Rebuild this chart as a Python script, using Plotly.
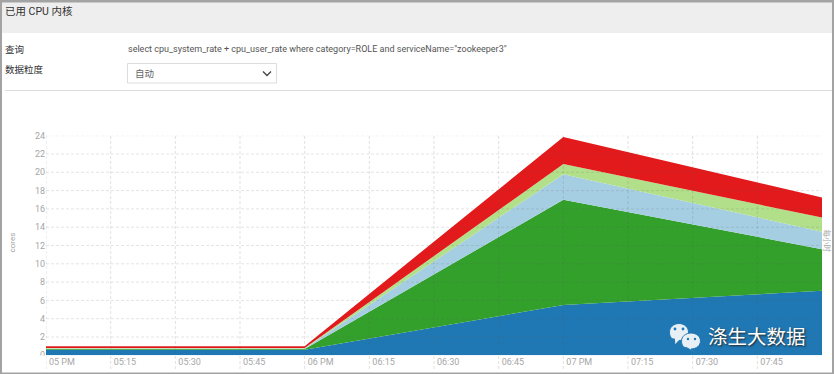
import plotly.graph_objects as go

W, H = 834, 374

# ---- data ----
times = ["2020-01-01 17:00", "2020-01-01 18:00", "2020-01-01 19:00", "2020-01-01 20:00"]
series_names = ["role-a", "role-b", "role-c", "role-d", "role-e"]
role_a = [0.6, 0.6, 5.5, 7.05]
role_b = [0.1, 0.1, 11.5, 4.55]
role_c = [0.05, 0.05, 2.8, 1.9]
role_d = [0.05, 0.05, 1.1, 1.55]
role_e = [0.2, 0.2, 2.95, 2.2]
series_values = [role_a, role_b, role_c, role_d, role_e]
series_colors = ["#1f78b4", "#33a02c", "#a6cee3", "#b2df8a", "#e31a1c"]

x_tick_vals = ["2020-01-01 17:00", "2020-01-01 17:15", "2020-01-01 17:30", "2020-01-01 17:45",
               "2020-01-01 18:00", "2020-01-01 18:15", "2020-01-01 18:30", "2020-01-01 18:45",
               "2020-01-01 19:00", "2020-01-01 19:15", "2020-01-01 19:30", "2020-01-01 19:45"]
x_tick_text = ["05 PM", "05:15", "05:30", "05:45", "06 PM", "06:15", "06:30", "06:45",
               "07 PM", "07:15", "07:30", "07:45"]
y_tick_vals = list(range(0, 25, 2))

FONT = "Roboto, Liberation Sans, Noto Sans CJK SC, sans-serif"
GREY = "#a6a6a6"


def px(x):
    return x / W


def py(y):
    return 1 - y / H


fig = go.Figure()
for name, vals, col in zip(series_names, series_values, series_colors):
    fig.add_trace(go.Scatter(x=times, y=vals, name=name, stackgroup="one", mode="lines",
                             line=dict(width=0, color=col), fillcolor=col, hoverinfo="x+y"))

shapes = []


def rect(x0, y0, x1, y1, fill, line=None, layer="below"):
    shapes.append(dict(type="rect", xref="paper", yref="paper", x0=px(x0), x1=px(x1),
                       y0=py(y0), y1=py(y1), fillcolor=fill, layer=layer,
                       line=dict(width=1 if line else 0, color=line or fill)))


# page chrome
rect(2, 2, 832, 33, "#eeeeee")
rect(127.5, 63.5, 276.5, 83, "#ffffff", "#dddddd")
shapes.append(dict(type="line", xref="paper", yref="paper", x0=px(5), x1=px(834), y0=py(90.5), y1=py(90.5),
                   line=dict(color="#dddddd", width=1)))
shapes.append(dict(type="path", xref="paper", yref="paper",
                   path=f"M{px(263)},{py(71.5)} L{px(267)},{py(75.5)} L{px(271)},{py(71.5)}",
                   line=dict(color="#444444", width=1.3)))

# grid drawn over the fills, as in the reference
for t in x_tick_vals:
    shapes.append(dict(type="line", xref="x", yref="paper", x0=t, x1=t, y0=py(369), y1=py(135.7), layer="above",
                       line=dict(color="rgba(90,90,90,0.18)", width=1, dash="3px,2px")))
for v in y_tick_vals[1:]:
    shapes.append(dict(type="line", xref="paper", yref="y", x0=px(46), x1=px(822), y0=v, y1=v, layer="above",
                       line=dict(color="rgba(90,90,90,0.16)", width=1, dash="3px,2px")))

# outer frame
rect(0, 0, 834, 2.5, "#a3a3a3", layer="above")
rect(0, 0, 2, 374, "#a3a3a3", layer="above")
rect(832, 0, 834, 374, "#a3a3a3", layer="above")
rect(0, 372.5, 834, 374, "#a3a3a3", layer="above")
# bottom of the "0" tick label is cut by the x axis strip
rect(30, 355.5, 45, 362, "#ffffff", layer="above")

# watermark icon
def bubble(cx, cy, rx, ry, tx, ty, fill):
    k = 0.5523
    d = (f"M{px(cx-rx)},{py(cy)} "
         f"C{px(cx-rx)},{py(cy-k*ry)} {px(cx-k*rx)},{py(cy-ry)} {px(cx)},{py(cy-ry)} "
         f"C{px(cx+k*rx)},{py(cy-ry)} {px(cx+rx)},{py(cy-k*ry)} {px(cx+rx)},{py(cy)} "
         f"C{px(cx+rx)},{py(cy+k*ry)} {px(cx+k*rx)},{py(cy+ry)} {px(cx)},{py(cy+ry)} "
         f"L{px(tx)},{py(ty)} L{px(cx-0.5*rx)},{py(cy+0.8*ry)} "
         f"C{px(cx-k*rx-2)},{py(cy+ry-1)} {px(cx-rx)},{py(cy+k*ry)} {px(cx-rx)},{py(cy)} Z")
    shapes.append(dict(type="path", xref="paper", yref="paper", path=d, fillcolor=fill, layer="above",
                       line=dict(color="#1f78b4", width=1)))


def dot(cx, cy, r, fill):
    shapes.append(dict(type="circle", xref="paper", yref="paper", x0=px(cx-r), x1=px(cx+r),
                       y0=py(cy-r), y1=py(cy+r), fillcolor=fill, layer="above", line=dict(width=0)))


bubble(679, 332, 9.5, 8.5, 675, 345, "#e8f0f6")
bubble(691, 341, 9.5, 8, 696, 353, "#e8f0f6")
dot(675, 329, 1.4, "#1f78b4")
dot(683, 329, 1.4, "#1f78b4")
dot(688, 339, 1.2, "#1f78b4")
dot(695, 339, 1.2, "#1f78b4")


def note(text, x, y, size, color="#444444", anchor="left", angle=0, **kw):
    return dict(text=text, xref="paper", yref="paper", x=px(x), y=py(y), xanchor=anchor, yanchor="middle",
                showarrow=False, textangle=angle, font=dict(size=size, color=color, family=FONT, **kw))


annotations = [
    note("已用 CPU 内核", 3, 11.5, 10.5, "#333333"),
    note("查询", 3, 49.5, 9.5, "#333333"),
    note("select cpu_system_rate + cpu_user_rate where category=ROLE and serviceName=\"zookeeper3\"",
         125.5, 49.5, 9, "#555555"),
    note("数据粒度", 3, 69.5, 9.5, "#333333"),
    note("自动", 133, 73.5, 9.5, "#666666"),
    note("cores", 11.5, 243, 8, GREY, angle=-90, anchor="center"),
    note("每小时", 826.5, 241, 7.5, GREY, angle=90, anchor="center"),
    note("涤生大数据", 705.5, 337, 19.5, "#ffffff", shadow="1px 1px 2px #222222"),
]

fig.update_layout(
    width=W, height=H, autosize=False,
    margin=dict(l=0, r=0, t=0, b=0),
    paper_bgcolor="#ffffff", plot_bgcolor="#ffffff",
    showlegend=False,
    font=dict(family=FONT, size=9, color=GREY),
    shapes=shapes, annotations=annotations,
    xaxis=dict(domain=[px(46), px(822)], range=["2020-01-01 17:00", "2020-01-01 20:00"], type="date",
               tickmode="array", tickvals=x_tick_vals, ticktext=x_tick_text, automargin=False,
               ticklabelposition="outside right", ticklabelshift=3, ticks="", showgrid=False, zeroline=False,
               showline=False, tickfont=dict(size=9, color=GREY, family=FONT)),
    yaxis=dict(domain=[py(355.3), py(135.7)], range=[0, 24], tickmode="array", tickvals=y_tick_vals,
               automargin=False, ticks="", showgrid=False, zeroline=False, showline=False,
               tickfont=dict(size=9, color=GREY, family=FONT)),
)
fig.write_html("out.html", post_script="document.body.style.margin='0';document.body.style.overflow='hidden';",
               config={"displayModeBar": False})
